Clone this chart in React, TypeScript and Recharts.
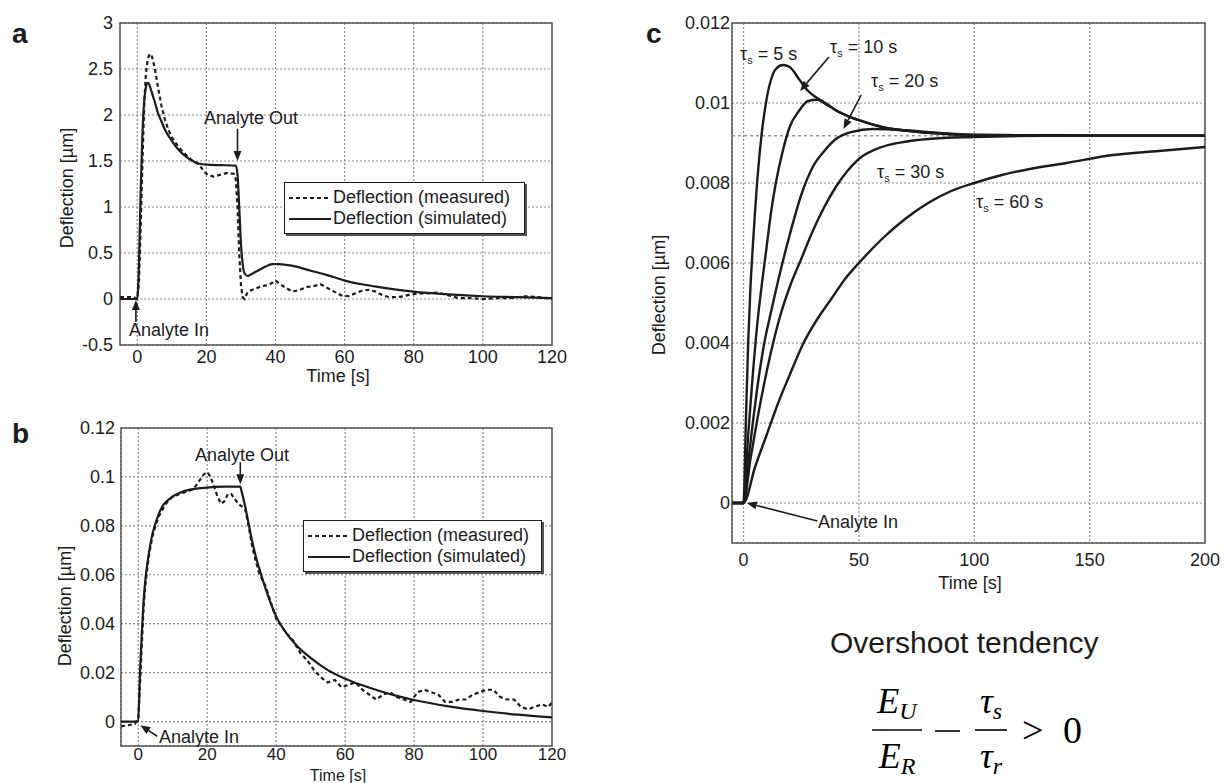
import React from 'react';
import { LineChart, Line, XAxis, YAxis, CartesianGrid, ReferenceLine, ReferenceArea, Legend } from 'recharts';

const FONT = '"Liberation Sans", Arial, Helvetica, sans-serif';
const SERIF = '"Liberation Serif", "Times New Roman", serif';
const INK = '#1c1c1c';
const GRID = '#8a8a8a';

// ---- panel a ----
const aSimT = [-5, 0, 0.5, 1, 1.5, 2, 2.5, 3, 3.5, 4, 5, 6, 7, 8, 10, 12, 14, 16, 18, 20, 24, 28.5, 29, 29.5, 30, 30.5, 31, 32, 33, 35, 37, 39, 41, 45, 50, 55, 60, 65, 70, 80, 90, 100, 110, 120];
const aSimV = [0, 0, 0.4, 1.2, 1.8, 2.15, 2.3, 2.35, 2.33, 2.27, 2.15, 2.02, 1.93, 1.84, 1.72, 1.62, 1.55, 1.5, 1.47, 1.46, 1.455, 1.45, 1.35, 1.0, 0.6, 0.38, 0.28, 0.25, 0.27, 0.31, 0.35, 0.38, 0.38, 0.36, 0.31, 0.26, 0.2, 0.16, 0.13, 0.08, 0.05, 0.03, 0.02, 0.01];
const aMeasT = [-5, -1, 0, 0.5, 1, 1.5, 2, 2.5, 3, 3.5, 4, 4.5, 5, 6, 7, 8, 9, 10, 12, 14, 16, 18, 19, 20, 22, 24, 26, 28, 28.5, 29, 29.5, 30, 30.5, 31, 32, 34, 36, 38, 40, 41, 43, 45, 47, 49, 51, 53, 55, 57, 59, 61, 63, 65, 67, 69, 71, 73, 75, 77, 79, 81, 84, 87, 90, 93, 96, 100, 104, 108, 112, 116, 120];
const aMeasV = [0.02, 0.02, 0.0, 0.2, 0.8, 1.5, 2.1, 2.45, 2.6, 2.66, 2.66, 2.6, 2.52, 2.3, 2.1, 1.95, 1.84, 1.76, 1.65, 1.57, 1.5, 1.46, 1.4, 1.36, 1.33, 1.35, 1.37, 1.36, 1.3, 1.0, 0.5, 0.15, 0.02, 0.0, 0.08, 0.11, 0.14, 0.15, 0.2, 0.17, 0.12, 0.08, 0.1, 0.13, 0.14, 0.16, 0.12, 0.08, 0.04, 0.03, 0.06, 0.09, 0.1, 0.08, 0.04, 0.02, 0.02, 0.03, 0.05, 0.06, 0.06, 0.07, 0.04, 0.01, 0.01, 0.0, 0.01, 0.01, 0.03, 0.02, 0.0];
const aXTicks = [0, 20, 40, 60, 80, 100, 120];
const aYTicks = [-0.5, 0, 0.5, 1, 1.5, 2, 2.5, 3];

// ---- panel b ----
const bSimT = [-5, 0, 0.5, 1, 1.5, 2, 3, 4, 5, 6, 7, 8, 10, 12, 15, 19, 25, 29.6, 30, 31, 32, 33, 34, 35, 37, 40, 43, 46, 50, 55, 60, 65, 70, 75, 80, 90, 100, 110, 120];
const bSimV = [0, 0, 0.02, 0.035, 0.048, 0.057, 0.068, 0.076, 0.081, 0.085, 0.088, 0.0897, 0.092, 0.0935, 0.0948, 0.0955, 0.096, 0.096, 0.094, 0.088, 0.081, 0.074, 0.068, 0.063, 0.054, 0.043, 0.036, 0.031, 0.026, 0.021, 0.0175, 0.0148, 0.0125, 0.0105, 0.0088, 0.0062, 0.0043, 0.0028, 0.0017];
const bMeasT = [-5, -1, 0, 0.5, 1, 1.5, 2, 3, 4, 5, 6, 8, 10, 12, 14, 16, 17, 18, 19, 20, 21, 22, 23, 24, 25, 26, 27, 28, 29, 30, 31, 32, 33, 34, 35, 37, 40, 43, 45, 47, 49, 51, 53, 55, 57, 59, 61, 63, 65, 67, 69, 71, 73, 75, 77, 79, 81, 83, 85, 87, 89, 91, 93, 95, 97, 99, 101, 103, 105, 107, 109, 111, 113, 115, 117, 119, 120];
const bMeasV = [-0.002, -0.001, 0.001, 0.015, 0.03, 0.045, 0.055, 0.067, 0.075, 0.08, 0.084, 0.089, 0.092, 0.093, 0.094, 0.095, 0.097, 0.099, 0.101, 0.102, 0.1, 0.096, 0.092, 0.089, 0.09, 0.093, 0.093, 0.091, 0.089, 0.088, 0.087, 0.08, 0.072, 0.066, 0.061, 0.055, 0.042, 0.036, 0.033, 0.028, 0.025, 0.021, 0.018, 0.016, 0.017, 0.014, 0.015, 0.016, 0.013, 0.011, 0.009, 0.011, 0.012, 0.01, 0.009, 0.008, 0.012, 0.013, 0.012, 0.011, 0.008, 0.008, 0.009, 0.009, 0.011, 0.012, 0.013, 0.013, 0.01, 0.009, 0.009, 0.006, 0.005, 0.006, 0.007, 0.006, 0.008];
const bXTicks = [0, 20, 40, 60, 80, 100, 120];
const bYTicks = [0, 0.02, 0.04, 0.06, 0.08, 0.1, 0.12];

// ---- panel c ----
const c5T = [-5, 0, 1, 2, 3, 4, 5, 6, 8, 10, 12, 14, 17, 20, 24, 28, 32, 36, 40, 45, 50, 60, 75, 90, 100, 150, 200];
const c5V = [0, 0, 0.002, 0.004, 0.0054, 0.0064, 0.0073, 0.0081, 0.0093, 0.0101, 0.0106, 0.01085, 0.01095, 0.0109, 0.0106, 0.0103, 0.01012, 0.00998, 0.00982, 0.00968, 0.00957, 0.0094, 0.00928, 0.00922, 0.0092, 0.00918, 0.00918];
const c10T = [-5, 0, 2, 4, 6, 8, 10, 12, 14, 17, 20, 24, 28, 32, 36, 40, 45, 50, 60, 75, 90, 100, 150, 200];
const c10V = [0, 0, 0.0017, 0.0032, 0.0045, 0.0055, 0.0064, 0.0073, 0.008, 0.0088, 0.0094, 0.0098, 0.01005, 0.01008, 0.00996, 0.00982, 0.00968, 0.00957, 0.0094, 0.00928, 0.00922, 0.0092, 0.00918, 0.00918];
const c20T = [-5, 0, 2, 4, 6, 9, 12, 16, 20, 25, 30, 35, 40, 47, 56, 70, 85, 100, 150, 200];
const c20V = [0, 0, 0.001, 0.002, 0.0029, 0.004, 0.0048, 0.0058, 0.0067, 0.0077, 0.0084, 0.0088, 0.0091, 0.00928, 0.00935, 0.00932, 0.00925, 0.0092, 0.00918, 0.00918];
const c30T = [-5, 0, 3, 6, 9, 12, 16, 20, 25, 30, 35, 40, 45, 50, 60, 70, 80, 100, 130, 200];
const c30V = [0, 0, 0.0011, 0.0021, 0.003, 0.0038, 0.0047, 0.0054, 0.0061, 0.0068, 0.0074, 0.0079, 0.0083, 0.0086, 0.0089, 0.00903, 0.0091, 0.00915, 0.00918, 0.00918];
const c60T = [-5, 0, 5, 10, 15, 20, 26, 32, 38, 44, 50, 60, 70, 80, 90, 100, 112, 124, 140, 160, 180, 200];
const c60V = [0, 0, 0.0009, 0.0017, 0.0025, 0.0032, 0.004, 0.0046, 0.0051, 0.0056, 0.006, 0.0066, 0.0071, 0.0075, 0.0078, 0.008, 0.0082, 0.00835, 0.0085, 0.0087, 0.0088, 0.0089];
const cSteady = 0.00918;
const cXTicks = [0, 50, 100, 150, 200];
const cYTicks = [0, 0.002, 0.004, 0.006, 0.008, 0.01, 0.012];

const zip = (t: number[], v: number[]) => t.map((x, i) => ({ t: x, v: v[i] }));

const tick = { fill: INK, fontSize: 18, fontFamily: FONT };
const tickSmall = { fill: INK, fontSize: 17, fontFamily: FONT };

function arrow(props: any) {
  const { x1, y1, x2, y2 } = props;
  const a = Math.atan2(y2 - y1, x2 - x1);
  const len = 10;
  const half = 4;
  const bx = x2 - len * Math.cos(a);
  const by = y2 - len * Math.sin(a);
  const px = -Math.sin(a) * half;
  const py = Math.cos(a) * half;
  return (
    <g>
      <line x1={x1} y1={y1} x2={bx} y2={by} stroke={INK} strokeWidth={1.6} />
      <polygon points={`${x2},${y2} ${bx + px},${by + py} ${bx - px},${by - py}`} fill={INK} />
    </g>
  );
}

const legendBox = (w: number) => (props: any) => (
  <div
    style={{
      width: w,
      boxSizing: 'border-box',
      border: `1.5px solid ${INK}`,
      boxShadow: '2px 2px 0 #555',
      background: '#fff',
      padding: '4px 4px',
      fontFamily: FONT,
      fontSize: 18,
      color: INK,
      lineHeight: '21px',
    }}
  >
    {(props.payload || []).map((p: any) => (
      <div key={p.value} style={{ display: 'flex', alignItems: 'center' }}>
        <svg width={42} height={10}>
          <line x1={0} y1={5} x2={42} y2={5} stroke={INK} strokeWidth={2} strokeDasharray={String(p.value).includes('measured') ? '4 3' : undefined} />
        </svg>
        <span style={{ marginLeft: 2 }}>{p.value}</span>
      </div>
    ))}
  </div>
);

function DeflectionPanel(props: {
  sim: { t: number; v: number }[];
  meas: { t: number; v: number }[];
  xTicks: number[];
  yTicks: number[];
  yMin: number;
  yMax: number;
  width: number;
  height: number;
  margin: any;
  yAxisWidth: number;
  xAxisHeight: number;
  xTickMargin: number;
  yTickMargin: number;
  xTick: any;
  legendPos: { left: number; top: number; width: number };
  arrows: { x: number; y: number }[][];
}) {
  const p = props;
  return (
    <LineChart width={p.width} height={p.height} margin={p.margin} style={{ fontFamily: FONT }}>
      <CartesianGrid stroke={GRID} strokeDasharray="2 2" strokeWidth={1.2} />
      <XAxis type="number" dataKey="t" domain={[-5, 120]} ticks={p.xTicks} allowDataOverflow axisLine={false} tickLine={false} tickSize={0} tickMargin={p.xTickMargin} height={p.xAxisHeight} tick={p.xTick} />
      <YAxis type="number" domain={[p.yMin, p.yMax]} ticks={p.yTicks} allowDataOverflow axisLine={false} tickLine={false} tickSize={0} tickMargin={p.yTickMargin} width={p.yAxisWidth} tick={tick} />
      <ReferenceArea x1={-5} x2={120} y1={p.yMin} y2={p.yMax} fill="none" fillOpacity={0} stroke="#555" strokeWidth={1.5} ifOverflow="visible" />
      <Line data={p.meas} dataKey="v" name="Deflection (measured)" type="linear" stroke={INK} strokeWidth={2.2} strokeDasharray="4 3" dot={false} isAnimationActive={false} />
      <Line data={p.sim} dataKey="v" name="Deflection (simulated)" type="monotone" stroke={INK} strokeWidth={2.2} dot={false} isAnimationActive={false} />
      {p.arrows.map((seg, i) => (
        <ReferenceLine key={i} segment={seg as any} shape={arrow} ifOverflow="visible" />
      ))}
      <Legend layout="vertical" align="center" verticalAlign="middle" content={legendBox(p.legendPos.width)} wrapperStyle={{ left: p.legendPos.left, top: p.legendPos.top, width: p.legendPos.width }} />
    </LineChart>
  );
}

const cSeries = [
  { key: '5', data: zip(c5T, c5V) },
  { key: '10', data: zip(c10T, c10V) },
  { key: '20', data: zip(c20T, c20V) },
  { key: '30', data: zip(c30T, c30V) },
  { key: '60', data: zip(c60T, c60V) },
];

const tauLabels = [
  { text: ' = 5 s', x: 740, y: 60 },
  { text: ' = 10 s', x: 830, y: 53 },
  { text: ' = 20 s', x: 871, y: 87 },
  { text: ' = 30 s', x: 877, y: 178 },
  { text: ' = 60 s', x: 976, y: 208 },
];

function Overlay() {
  return (
    <svg width={1225} height={783} style={{ position: 'absolute', left: 0, top: 0, pointerEvents: 'none' }}>
      <g fontFamily={FONT} fill={INK}>
        <text x={12} y={43} fontSize={28} fontWeight="bold">a</text>
        <text x={12} y={443} fontSize={28} fontWeight="bold">b</text>
        <text x={646} y={43} fontSize={28} fontWeight="bold">c</text>

        <text x={67} y={188} fontSize={18} textAnchor="middle" dominantBaseline="central" transform="rotate(-90 67 188)">Deflection [µm]</text>
        <text x={65} y={606} fontSize={18} textAnchor="middle" dominantBaseline="central" transform="rotate(-90 65 606)">Deflection [µm]</text>
        <text x={659} y={295} fontSize={18} textAnchor="middle" dominantBaseline="central" transform="rotate(-90 659 295)">Deflection [µm]</text>

        <text x={338} y={382} fontSize={18} textAnchor="middle">Time [s]</text>
        <text x={338} y={781} fontSize={16} textAnchor="middle">Time [s]</text>
        <text x={970} y={589} fontSize={18} textAnchor="middle">Time [s]</text>

        <text x={204} y={124} fontSize={18}>Analyte Out</text>
        <text x={129} y={336} fontSize={18}>Analyte In</text>
        <text x={195} y={461} fontSize={18}>Analyte Out</text>
        <text x={159} y={743} fontSize={18}>Analyte In</text>
        <text x={818} y={528} fontSize={18}>Analyte In</text>

        {tauLabels.map((l) => (
          <text key={l.text} x={l.x} y={l.y} fontSize={18}>
            τ<tspan dy={4} fontSize={11}>s</tspan>
            <tspan dy={-4}>{l.text}</tspan>
          </text>
        ))}

        <text x={830} y={653} fontSize={30}>Overshoot tendency</text>
      </g>
      <g fontFamily={SERIF} fill="#000">
        <text x={897} y={713} fontSize={36} textAnchor="middle" fontStyle="italic">
          E<tspan dy={6} fontSize={24}>U</tspan>
        </text>
        <line x1={872} y1={730} x2={922} y2={730} stroke="#000" strokeWidth={1.6} />
        <text x={897} y={768} fontSize={36} textAnchor="middle" fontStyle="italic">
          E<tspan dy={6} fontSize={24}>R</tspan>
        </text>
        <line x1={935} y1={731} x2={960} y2={731} stroke="#000" strokeWidth={1.6} />
        <text x={991} y={713} fontSize={36} textAnchor="middle" fontStyle="italic">
          τ<tspan dy={6} fontSize={24}>s</tspan>
        </text>
        <line x1={975} y1={730} x2={1007} y2={730} stroke="#000" strokeWidth={1.6} />
        <text x={991} y={768} fontSize={36} textAnchor="middle" fontStyle="italic">
          τ<tspan dy={6} fontSize={24}>r</tspan>
        </text>
        <text x={1022} y={743} fontSize={38}>&gt;</text>
        <text x={1063} y={743} fontSize={38}>0</text>
      </g>
    </svg>
  );
}

export default function App() {
  return (
    <div style={{ position: 'absolute', left: 0, top: 0, width: 1225, height: 783, background: '#fff', overflow: 'hidden' }}>
      <div style={{ position: 'absolute', left: 0, top: 0 }}>
        <DeflectionPanel
          sim={zip(aSimT, aSimV)}
          meas={zip(aMeasT, aMeasV)}
          xTicks={aXTicks}
          yTicks={aYTicks}
          yMin={-0.5}
          yMax={3}
          width={600}
          height={390}
          margin={{ top: 23, right: 48, bottom: 0, left: 0 }}
          yAxisWidth={120}
          xAxisHeight={45}
          xTickMargin={5}
          yTickMargin={7}
          xTick={tick}
          legendPos={{ left: 284, top: 182, width: 241 }}
          arrows={[
            [{ x: 29, y: 1.85 }, { x: 29, y: 1.5 }],
            [{ x: -0.4, y: -0.25 }, { x: -0.4, y: -0.01 }],
          ]}
        />
      </div>
      <div style={{ position: 'absolute', left: 0, top: 400 }}>
        <DeflectionPanel
          sim={zip(bSimT, bSimV)}
          meas={zip(bMeasT, bMeasV)}
          xTicks={bXTicks}
          yTicks={bYTicks}
          yMin={-0.01}
          yMax={0.12}
          width={600}
          height={383}
          margin={{ top: 28, right: 48, bottom: 0, left: 0 }}
          yAxisWidth={121}
          xAxisHeight={37}
          xTickMargin={2}
          yTickMargin={6}
          xTick={tickSmall}
          legendPos={{ left: 303, top: 120, width: 239 }}
          arrows={[
            [{ x: 29.6, y: 0.106 }, { x: 29.6, y: 0.097 }],
            [{ x: 5.5, y: -0.006 }, { x: 0.6, y: -0.0015 }],
          ]}
        />
      </div>
      <div style={{ position: 'absolute', left: 600, top: 0 }}>
        <LineChart width={625} height={600} margin={{ top: 23, right: 20, bottom: 0, left: 0 }} style={{ fontFamily: FONT }}>
          <CartesianGrid stroke={GRID} strokeDasharray="2 2" strokeWidth={1.2} />
          <XAxis type="number" dataKey="t" domain={[-5, 200]} ticks={cXTicks} allowDataOverflow axisLine={false} tickLine={false} tickSize={0} tickMargin={10} height={57} tick={tick} />
          <YAxis type="number" domain={[-0.001, 0.012]} ticks={cYTicks} allowDataOverflow axisLine={false} tickLine={false} tickSize={0} tickMargin={2} width={132} tick={tick} />
          <ReferenceArea x1={-5} x2={200} y1={-0.001} y2={0.012} fill="none" fillOpacity={0} stroke="#555" strokeWidth={1.5} ifOverflow="visible" />
          <ReferenceLine y={cSteady} stroke="#999" strokeWidth={1.5} strokeDasharray="3 3" />
          {cSeries.map((s) => (
            <Line key={s.key} data={s.data} dataKey="v" name={`τs = ${s.key} s`} type="monotone" stroke={INK} strokeWidth={2.4} dot={false} isAnimationActive={false} />
          ))}
          <ReferenceLine segment={[{ x: 37, y: 0.01115 }, { x: 24.5, y: 0.0103 }] as any} shape={arrow} ifOverflow="visible" />
          <ReferenceLine segment={[{ x: 51, y: 0.0102 }, { x: 43.3, y: 0.00935 }] as any} shape={arrow} ifOverflow="visible" />
          <ReferenceLine segment={[{ x: 32, y: -0.00045 }, { x: 1.4, y: 0 }] as any} shape={arrow} ifOverflow="visible" />
        </LineChart>
      </div>
      <Overlay />
    </div>
  );
}
